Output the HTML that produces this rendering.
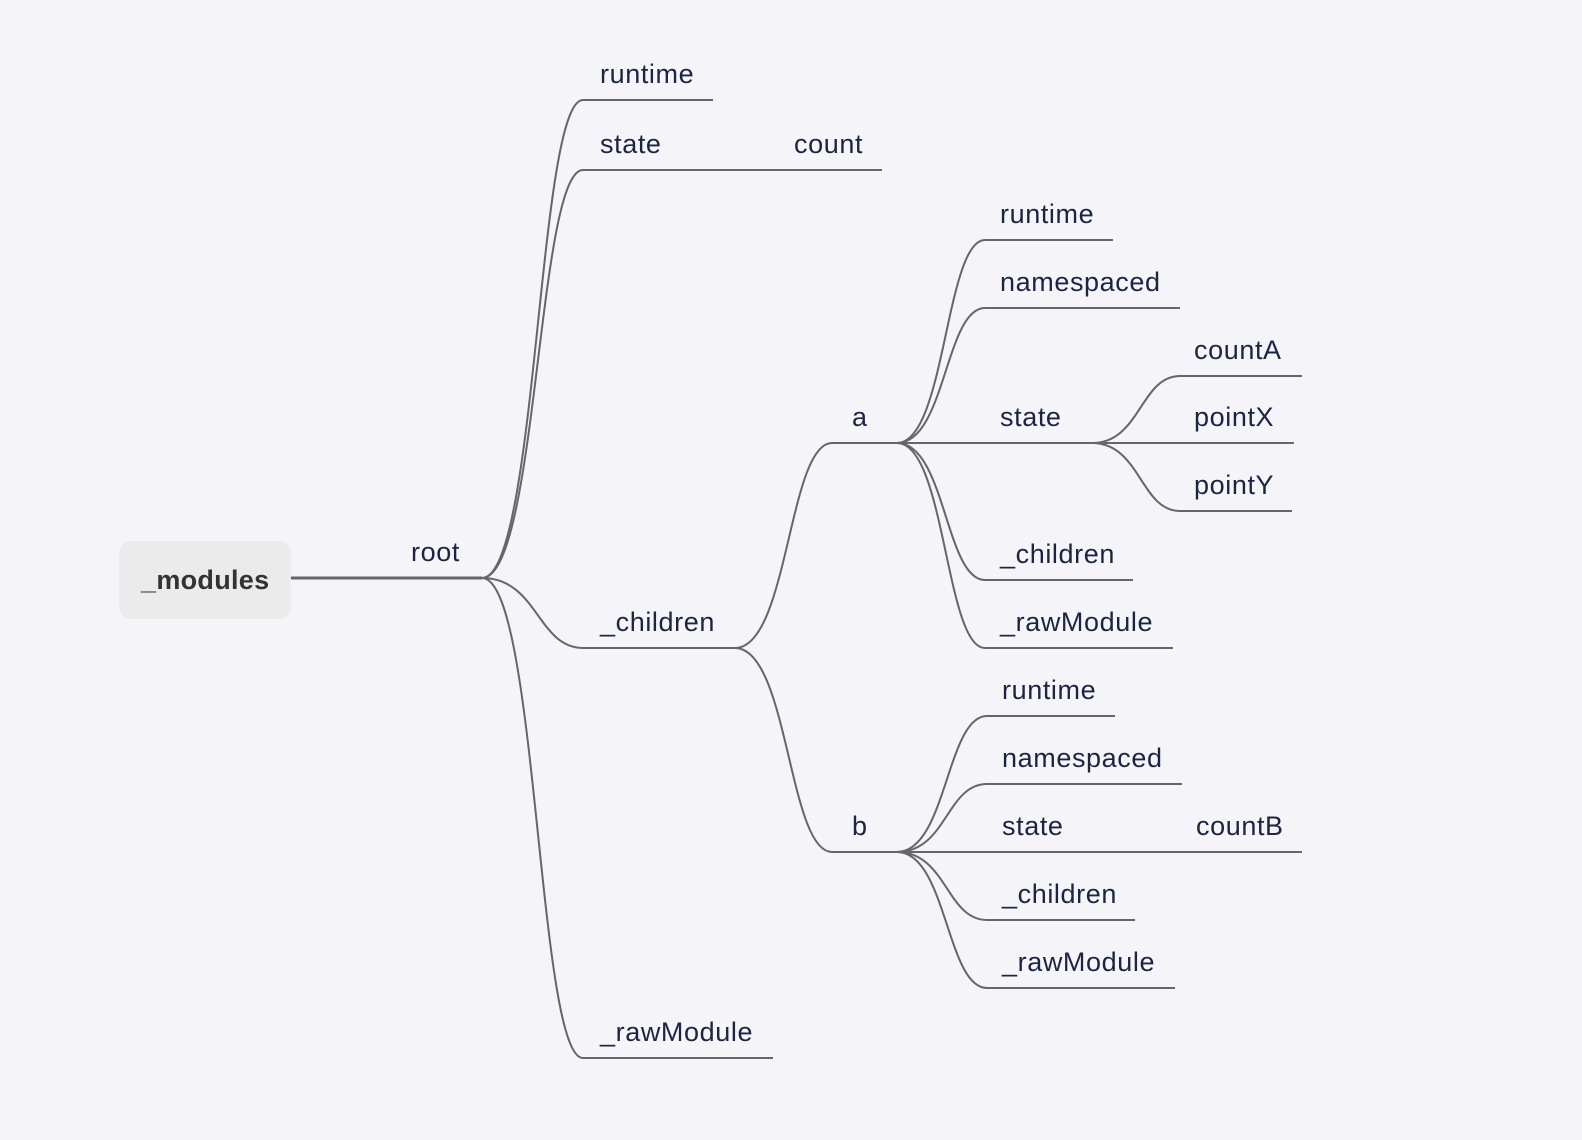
<!DOCTYPE html>
<html><head><meta charset="utf-8"><style>
html,body{margin:0;padding:0;background:#f5f5f9;}
svg{display:block}
text{font-family:"Liberation Sans",sans-serif;font-size:27px;letter-spacing:0.6px;fill:#1b2540;}
</style></head><body>
<svg id="map" width="1582" height="1140" viewBox="0 0 1582 1140">
<rect x="0" y="0" width="1582" height="1140" fill="#f5f5f9"/>
<g id="links"></g>
<g id="nodes"></g>
<rect x="119" y="541" width="172" height="78" rx="12" fill="#ebebeb"/>
<text x="141" y="589" style="font-weight:bold;fill:#333;font-size:27px;letter-spacing:0.3px">_modules</text>
<line x1="291" y1="578" x2="396" y2="578" stroke="#666" stroke-width="3"/>
</svg>
<script>
// label, textX, underline start, underline end, y, parent index
const labels=["root","runtime","state","count","_children","_rawModule","a","b","runtime","namespaced","state","_children","_rawModule","countA","pointX","pointY","runtime","namespaced","state","countB","_children","_rawModule"];
const textXs=[411,600,600,794,600,600,852,852,1000,1000,1000,1000,1000,1194,1194,1194,1002,1002,1002,1196,1002,1002];
const x0s=[396,583,583,779,583,583,832,832,985,985,985,985,985,1180,1180,1180,987,987,987,1180,987,987];
const x1s=[482,713,676,882,735,773,897,897,1113,1180,1092,1133,1173,1302,1294,1292,1115,1182,1180,1302,1135,1175];
const ys=[578,100,170,170,648,1058,443,852,240,308,443,580,648,376,443,511,716,784,852,852,920,988];
const parents=[-1,0,0,2,0,0,4,4,6,6,6,6,6,10,10,10,7,7,7,18,7,7];
const NS="http://www.w3.org/2000/svg";
const L=document.getElementById('links'),N=document.getElementById('nodes');
for(let i=0;i<labels.length;i++){
  const y=ys[i];
  const ul=document.createElementNS(NS,'line');
  ul.setAttribute('x1',x0s[i]);ul.setAttribute('x2',x1s[i]);ul.setAttribute('y1',y);ul.setAttribute('y2',y);
  ul.setAttribute('stroke','#666');ul.setAttribute('stroke-width',i===0?3:2);
  
  
  N.appendChild(ul);
  const t=document.createElementNS(NS,'text');
  t.setAttribute('x',textXs[i]);t.setAttribute('y',y-17);t.textContent=labels[i];
  
  
  N.appendChild(t);
  const p=parents[i];
  if(p>=0){
    const px=x1s[p],py=ys[p],cx=x0s[i],dx=cx-px;
    const path=document.createElementNS(NS,'path');
    let d;
    if(py===y) d='M'+px+' '+py+' L'+cx+' '+y;
    else d='M'+px+' '+py+' C'+(px+dx*0.55)+' '+py+' '+(px+dx*0.55)+' '+y+' '+cx+' '+y;
    path.setAttribute('d',d);path.setAttribute('fill','none');
    path.setAttribute('stroke','#666');path.setAttribute('stroke-width',2);
    
    
    L.appendChild(path);
  }
}
</script>
</body></html>
